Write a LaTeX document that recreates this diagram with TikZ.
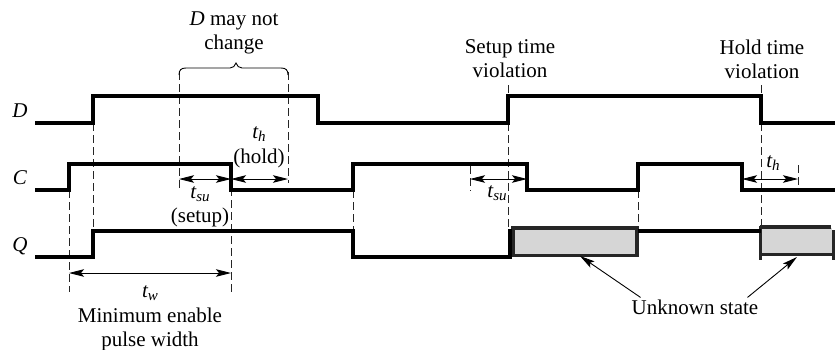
\documentclass[tikz,border=0pt]{standalone}
\usepackage{fontspec}
\setmainfont{Liberation Serif}
\usetikzlibrary{arrows.meta}
\newcommand{\tsub}[2]{{\itshape #1\raisebox{-3.5pt}{\fontsize{15}{15}\selectfont #2}}}
\tikzset{
  wave/.style={line width=3.4pt,line cap=butt,line join=miter},
  guide/.style={line width=0.8pt,dash pattern=on 8pt off 4pt,black!85},
  span/.style={line width=0.9pt,{Stealth[length=15pt,width=7.5pt,inset=3pt]}-{Stealth[length=15pt,width=7.5pt,inset=3pt]}},
  pointer/.style={line width=0.9pt,-{Stealth[length=15pt,width=7.5pt,inset=3pt]}},
  unknown/.style={draw=black!85,fill=black!16,line width=3.5pt},
  label/.style={inner sep=0pt,align=center,font=\fontsize{21}{24}\selectfont},
}
\begin{document}
\begin{tikzpicture}[x=1pt,y=-1pt]
\useasboundingbox[fill=white] (0,0) rectangle (835,349);
% guides
\foreach \x/\a/\b in {69/190/292,93/123/231,179/72/190,288/72/183,231/164/292,353/190/231,
  508/85/96,508/123/229,638/190/256,761/85/96,761/123/228,470/166/191,798/165/190}
  {\draw[guide] (\x,\a) -- (\x,\b);}
% brace
\draw[line width=0.9pt] (179,75) .. controls (179,70) and (181,68) .. (186,68) -- (230,68)
  .. controls (233,68) and (235,66) .. (236,63) .. controls (237,66) and (239,68) .. (242,68)
  -- (281,68) .. controls (286,68) and (288,70) .. (288,75);
% unknown state boxes
\fill[white] (512,256) rectangle (640,270);
\draw[unknown] (513,228) rectangle (637,255.5);
\fill[white] (760,256) rectangle (835,266);
\fill[black!16] (761,228) rectangle (832,254);
\draw[line width=4pt,black!85] (760,227) -- (831,227);
\draw[line width=3pt,black!85] (760,254) -- (832,254);
\draw[line width=3pt,black!85] (760,226) -- (760,260);
\draw[line width=3pt,black!85] (833.5,230) -- (833.5,260);
% waveforms
\draw[wave] (35,123) -- (93,123) -- (93,96) -- (318,96) -- (318,123) -- (508,123) -- (508,96) -- (761,96) -- (761,123) -- (835,123);
\draw[wave] (35,190) -- (69,190) -- (69,164) -- (231,164) -- (231,190) -- (353,190) -- (353,164) -- (527,164) -- (527,190) -- (638,190) -- (638,164) -- (742,164) -- (742,190) -- (835,190);
\draw[wave] (35,257) -- (93,257) -- (93,231) -- (353,231) -- (353,257) -- (510,257) -- (510,229);
\draw[wave] (638,231) -- (761,231);
% span arrows
\coordinate (a1) at (179,179); \coordinate (a2) at (231,179);
\coordinate (a3) at (288,179);
\coordinate (a4) at (69,273); \coordinate (a5) at (231,273);
\coordinate (a6) at (470,179); \coordinate (a7) at (527,179);
\coordinate (a8) at (742,179); \coordinate (a9) at (798,179);
\draw[span] (a1) -- (a2);
\draw[span] (a2) -- (a3);
\draw[span] (a4) -- (a5);
\draw[span] (a6) -- (a7);
\draw[span] (a8) -- (a9);
% labels
\node[label] (ld) at (20,111) {\itshape D};
\node[label] (lc) at (20,178) {\itshape C};
\node[label] (lq) at (20,246) {\itshape Q};
\node[label] (nochange) at (234,33) {{\itshape D} may not\\change};
\node[label] (th1) at (259,134) {\tsub{t}{h}};
\node[label] (hold) at (259,158) {(hold)};
\node[label] (tsu1) at (200,194) {\tsub{t}{su}};
\node[label] (setup) at (200,217) {(setup)};
\node[label] (tw) at (150,293) {\tsub{t}{w}};
\node[label] (minw) at (150,329) {Minimum enable\\pulse width};
\node[label] (setupv) at (510,59) {Setup time\\violation};
\node[label] (holdv) at (762,59) {Hold time\\violation};
\node[label] (tsu2) at (497,193) {\tsub{t}{su}};
\node[label] (th2) at (773,163) {\tsub{t}{h}};
\node[label] (unk) at (695,307) {Unknown state};
% pointers
\coordinate (p1) at (580,256); \coordinate (p2) at (797,257);
\draw[pointer] (unk.north west) ++(9,-2) -- (p1);
\draw[pointer] (unk.north east) ++(-11,-2) -- (p2);
\end{tikzpicture}
\end{document}
